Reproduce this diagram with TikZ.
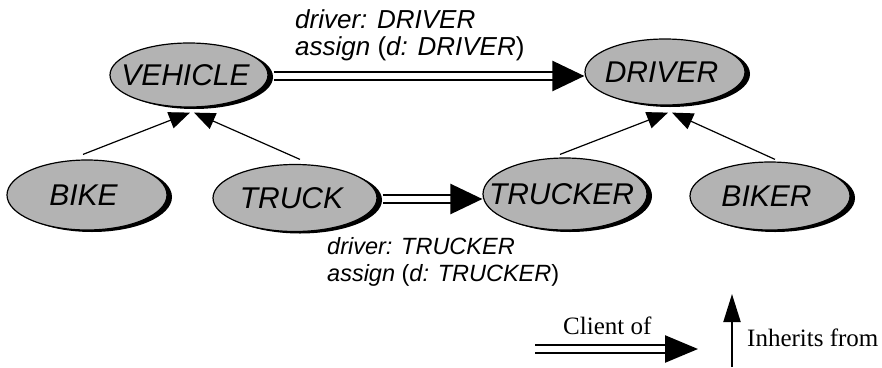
\documentclass[tikz,border=0pt]{standalone}
\usepackage{fontspec}
\setmainfont{Liberation Serif}
\newfontfamily\helv{Liberation Sans}
\usetikzlibrary{shapes.geometric,arrows.meta,shadows}

\definecolor{classgray}{RGB}{179,179,179}

% class name in a zero-width box, so the ellipse keeps its set size;
% the name sits a little left of the centre
\newcommand\clsname[1]{\makebox[0pt]{#1\kern7pt}}

\tikzset{
  classnode/.style={ellipse, draw=black, line width=1.2pt, fill=classgray,
    minimum width=160pt, minimum height=66pt, inner sep=0pt,
    drop shadow={shadow xshift=5pt, shadow yshift=-2pt, fill=black, opacity=1},
    font=\helv\itshape\fontsize{30}{34}\selectfont},
  clientof/.style={double, double distance=5.5pt, line width=2.4pt,
    -{Triangle[length=32pt,width=30pt]}},
  inherits/.style={line width=1.2pt, -{Triangle[length=21pt,width=17pt]}},
  featlabel/.style={anchor=base west, inner sep=0pt,
    font=\helv\itshape\fontsize{26}{30}\selectfont},
  featlabelsmall/.style={featlabel, font=\helv\itshape\fontsize{23.5}{28}\selectfont},
  legendtext/.style={anchor=base west, inner sep=0pt,
    font=\fontsize{25}{29}\selectfont}
}

\begin{document}
\begin{tikzpicture}[x=1pt,y=-1pt]
  \useasboundingbox (0,0) rectangle (882,367);

  % classes
  \node[classnode, minimum width=158pt, minimum height=64pt] (vehicle) at (189,75) {\clsname{VEHICLE}};
  \node[classnode, minimum height=66pt] (driver) at (665,72) {\clsname{DRIVER}};
  \node[classnode, minimum height=70pt] (bike) at (87,195) {\clsname{BIKE}};
  \node[classnode, minimum width=164pt, minimum height=67pt] (truck) at (295,198) {\clsname{TRUCK}};
  \node[classnode, minimum width=164pt, minimum height=72pt] (trucker) at (565,194) {\clsname{TRUCKER}};
  \node[classnode, minimum height=68pt] (biker) at (770,196) {\clsname{BIKER}};

  % client relations
  \draw[clientof] ([xshift=5pt,yshift=-1pt]vehicle.east) -- ([yshift=-1pt]vehicle.east -| driver.west);
  \draw[clientof] ([xshift=5pt,yshift=-1pt]truck.east) -- ([yshift=-1pt]truck.east -| trucker.west);

  % inheritance
  \draw[inherits] ([xshift=-4pt,yshift=5pt]bike.north) -- ([xshift=1pt,yshift=-5pt]vehicle.south);
  \draw[inherits] ([xshift=5pt,yshift=4.5pt]truck.north) -- ([xshift=5pt,yshift=-5pt]vehicle.south);
  \draw[inherits] ([xshift=-5pt,yshift=3pt]trucker.north) -- ([xshift=3pt,yshift=-7pt]driver.south);
  \draw[inherits] ([xshift=5pt,yshift=2pt]biker.north) -- ([xshift=7pt,yshift=-7pt]driver.south);

  % feature labels
  \node[featlabel] (f1) at (295,28) {driver: DRIVER};
  \node[featlabel] (f2) at (295,55) {assign \textup{(}d: DRIVER\textup{)}};
  \node[featlabelsmall] (f3) at (327,254) {driver: TRUCKER};
  \node[featlabelsmall] (f4) at (327,281) {assign \textup{(}d: TRUCKER\textup{)}};

  % legend
  \coordinate (c1) at (535,349);
  \coordinate (c2) at (698,349);
  \draw[clientof, -{Triangle[length=33pt,width=27pt]}] (c1) -- (c2);
  \node[legendtext] (lc) at (563,334) {Client of};
  \coordinate (i1) at (732,367);
  \coordinate (i2) at (732,294);
  \draw[inherits, line width=2pt, -{Triangle[length=28pt,width=17pt]}] (i1) -- (i2);
  \node[legendtext] (li) at (747,346) {Inherits from};
\end{tikzpicture}
\end{document}
